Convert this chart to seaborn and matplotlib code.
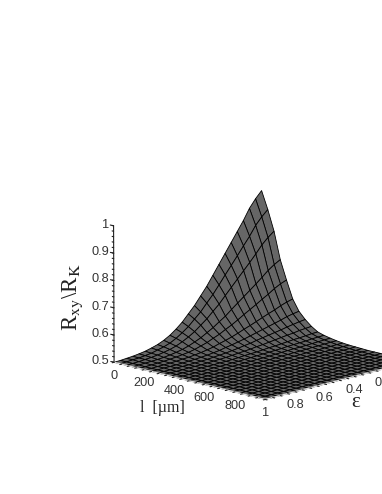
import numpy as np
import pandas as pd
import matplotlib
matplotlib.use("Agg")
import matplotlib.pyplot as plt
import seaborn as sns

eps_grid = [i / 24 for i in range(25)]
l_grid = [i * 1000 / 24 for i in range(25)]
# height above R=0.5 in thousandths, one row per l value
excess = [
[500,475,445,405,370,335,300,265,230,195,165,135,110,85,65,48,35,25,18,12,8,5,3,1,0],
[435,413,387,352,322,291,261,231,200,170,144,117,96,74,57,42,30,22,16,10,7,4,3,1,0],
[360,342,320,292,266,241,216,191,166,140,119,97,79,61,47,35,25,18,13,9,6,4,2,1,0],
[260,247,231,211,192,174,156,138,120,101,86,70,57,44,34,25,18,13,9,6,4,3,2,1,0],
[190,181,169,154,141,127,114,101,87,74,63,51,42,32,25,18,13,10,7,5,3,2,1,0,0],
[125,119,111,101,93,84,75,66,58,49,41,34,28,21,16,12,9,6,5,3,2,1,1,0,0],
[85,81,76,69,63,57,51,45,39,33,28,23,19,14,11,8,6,4,3,2,1,1,1,0,0],
[60,57,53,49,44,40,36,32,28,23,20,16,13,10,8,6,4,3,2,1,1,1,0,0,0],
[40,38,36,32,30,27,24,21,18,16,13,11,9,7,5,4,3,2,1,1,1,0,0,0,0],
[25,24,22,20,19,17,15,13,12,10,8,7,6,4,3,2,2,1,1,1,0,0,0,0,0],
[18,17,16,14,13,12,11,9,8,7,6,5,4,3,2,2,1,1,1,0,0,0,0,0,0],
[13,12,11,10,9,8,8,7,6,5,4,3,3,2,2,1,1,1,0,0,0,0,0,0,0],
[9,9,8,7,7,6,5,5,4,4,3,2,2,2,1,1,1,0,0,0,0,0,0,0,0],
[6,6,5,5,4,4,4,3,3,2,2,2,1,1,1,1,0,0,0,0,0,0,0,0,0],
[4,4,4,3,3,3,2,2,2,2,1,1,1,1,1,0,0,0,0,0,0,0,0,0,0],
[3,2,2,2,2,2,2,1,1,1,1,1,1,0,0,0,0,0,0,0,0,0,0,0,0],
[2,1,1,1,1,1,1,1,1,1,0,0,0,0,0,0,0,0,0,0,0,0,0,0,0],
[1,1,1,1,1,1,1,0,0,0,0,0,0,0,0,0,0,0,0,0,0,0,0,0,0],
[1,0,0,0,0,0,0,0,0,0,0,0,0,0,0,0,0,0,0,0,0,0,0,0,0],
[1,0,0,0,0,0,0,0,0,0,0,0,0,0,0,0,0,0,0,0,0,0,0,0,0],
[0]*25,[0]*25,[0]*25,[0]*25,[0]*25,
]
l_ticks = [0, 200, 400, 600, 800]
eps_ticks = [1, 0.8, 0.6, 0.4, 0.2]
z_ticks = [0.5, 0.6, 0.7, 0.8, 0.9, 1]

sns.set_theme(style="white")
plt.rcParams["font.family"] = ["Liberation Sans", "DejaVu Sans"]

X, Y = np.meshgrid(eps_grid, l_grid)
Z = 0.5 + np.array(excess) / 1000

fig = plt.figure(figsize=(3.82, 4.94), dpi=100)
ax = fig.add_axes([0.176, -0.105, 1.0, 1.0], projection="3d", computed_zorder=False)
ax.set_box_aspect((1, 1, 0.665), zoom=0.84)
ax.view_init(elev=14, azim=44.3)
ax.set_proj_type("persp", focal_length=5)
ax.set_xlim(0, 1); ax.set_ylim(0, 1000); ax.set_zlim(0.5, 1)
ax.set_axis_off()

surf = ax.plot_surface(X, Y, Z, rstride=1, cstride=1, color="#666666", shade=False,
                edgecolor="black", linewidth=0.6, antialiased=True, zorder=1)
surf.set_clip_on(False)

tk = dict(color="#222222", lw=0.8, zorder=3, clip_on=False)
ax.plot([1, 1], [0, 0], [0.5, 1], **tk)
ax.plot([1, 1], [0, 1000], [0.5, 0.5], color="#dddddd", lw=1.0, zorder=3, clip_on=False)
ax.plot([0, 1], [1000, 1000], [0.5, 0.5], color="#dddddd", lw=1.0, zorder=3, clip_on=False)
for z in np.arange(0.5, 1.001, 0.02):
    ax.plot([1, 1], [0, -10], [z, z], **tk)
for z in z_ticks:
    ax.plot([1, 1], [0, -22], [z, z], **tk)
    ax.text(1, -32, z, f"{z:g}", fontsize=9.2, color="#333333", ha="right", va="center")
for l in np.arange(0, 1001, 50):
    ax.plot([1, 1.012], [l, l], [0.5, 0.5], **tk)
for e in np.arange(0.0, 1.001, 0.05):
    ax.plot([e, e], [1000, 1012], [0.5, 0.5], **tk)
for l in l_ticks:
    ax.text(1, l, 0.45, f"{l}", fontsize=9.2, color="#333333", ha="center", va="center")
for e in eps_ticks:
    ax.text(e, 1000, 0.45, f"{e:g}", fontsize=9.2, color="#333333", ha="center", va="center")

fig.text(73 / 382, 1 - 297 / 494, r"R$_{\mathrm{xy}}$\R$_{\mathrm{K}}$", rotation=90,
         family="Liberation Serif", math_fontfamily="stix", fontsize=16.5, ha="center", va="center", color="#222222")
fig.text(162 / 382, 1 - 408 / 494, "l  [µm]", family="Liberation Serif", fontsize=11.5,
         ha="center", va="center", color="#222222")
fig.text(356 / 382, 1 - 402 / 494, "ε", family="Liberation Serif", fontsize=15,
         ha="center", va="center", color="#222222")
fig.savefig("out.png", dpi=100, facecolor="white")
